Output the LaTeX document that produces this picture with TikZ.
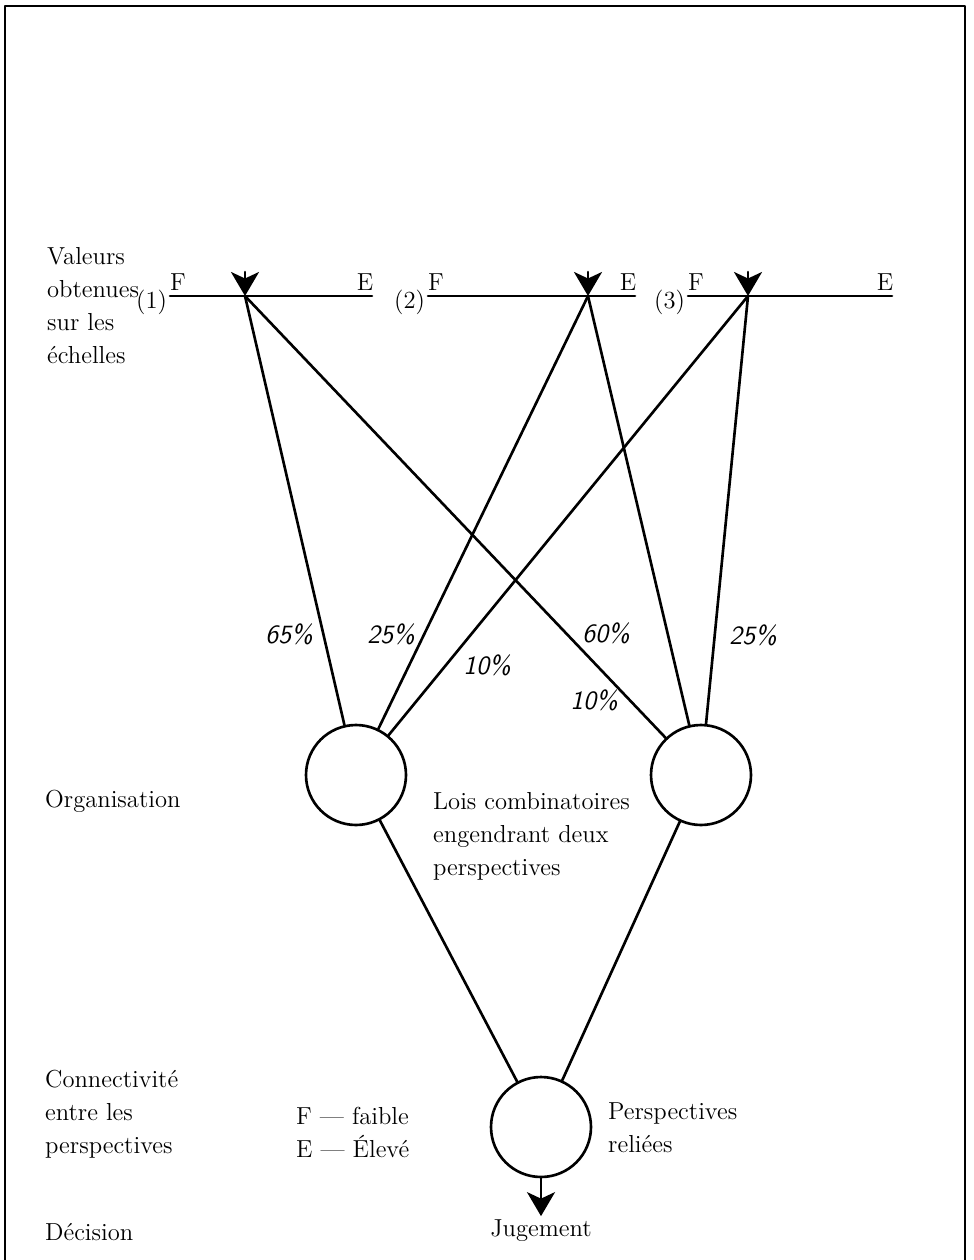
\documentclass[tikz,border=0pt]{standalone}
\usepackage{fontspec}
\usetikzlibrary{arrows.meta}
\begin{document}
\begin{tikzpicture}[x=0.02cm, y=-0.02cm, line join=round, line cap=round, line width=1.5pt,
	>={Stealth[length=0.48cm, width=0.56cm, inset=0.13cm]},
	font=\fontsize{14}{18.8}\selectfont,
	rond/.style={draw, circle, minimum size=2cm, inner sep=0pt},
	pct/.style={font=\fontsize{15}{16}\selectfont\sffamily\itshape}]
	\useasboundingbox (0,0) rectangle (973,1260);
	\draw[line width=1.6pt] (5,1262) -- (5,6) -- (965,6) -- (965,1262);
	% echelles
	\foreach \n/\a/\b/\v in {1/170/372/245, 2/428/635/588, 3/688/892/748}{
		\draw (\a,296) -- (\b,296);
		\draw[->] (\v,272) -- (\v,296) coordinate (v\n);
		\node[left, inner sep=1pt] at (\a,302) {(\n)};
		\node at (\a+8,282) {F};
		\node at (\b-7,282) {E};
	}
	\node[rond] (o1) at (356,775) {};
	\node[rond] (o2) at (701,775) {};
	\node[rond] (p) at (541,1127) {};
	\node[anchor=base, inner sep=1pt] (j) at (541,1236) {Jugement};
	\foreach \s/\c in {v1/o1, v2/o1, v3/o1, v1/o2, v2/o2, v3/o2}{
		\draw (\s) -- (\c);
	}
	\draw (o1) -- (p) (o2) -- (p);
	\draw[->] (p) -- (j);
	\foreach \t/\x/\y in {65/289/634, 25/391/634, 10/487/665, 60/606/633, 10/594/700, 25/753/635}{
		\node[pct] at (\x,\y) {\t\%};
	}
	% textes
	\node[anchor=west, align=left] at (40,306) {Valeurs\\obtenues\\sur les\\échelles};
	\node[anchor=base west] at (38,807) {Organisation};
	\node[anchor=west, align=left] at (38,1114) {Connectivité\\entre les\\perspectives};
	\node[anchor=base west] at (38,1240) {Décision};
	\node[anchor=west, align=left] at (426,836) {Lois combinatoires\\engendrant deux\\perspectives};
	\node[anchor=west, align=left] at (289,1132) {F --- faible\\E --- Élevé};
	\node[anchor=west, align=left] at (601,1128) {Perspectives\\reliées};
\end{tikzpicture}
\end{document}
